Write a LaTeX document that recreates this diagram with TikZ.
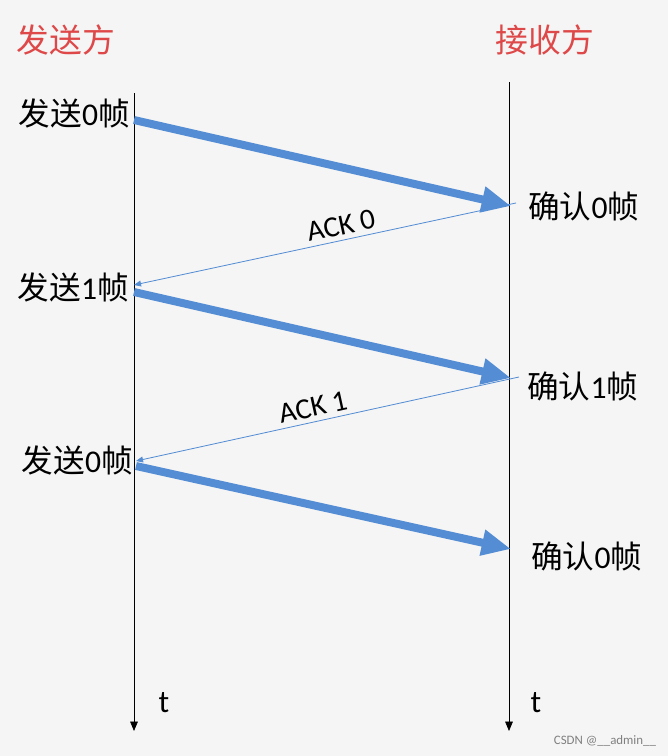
\documentclass[tikz,border=0pt]{standalone}
\usepackage{fontspec}
\setmainfont{Carlito}
\newfontfamily\cjk{Noto Sans CJK SC}
\usetikzlibrary{arrows.meta}

\definecolor{msgblue}{RGB}{84,141,212}
\definecolor{headred}{RGB}{222,72,72}
\definecolor{bggray}{RGB}{245,245,245}

\begin{document}
\begin{tikzpicture}[x=0.03cm,y=-0.03cm,
    timeline/.style={-{Triangle[length=8pt,width=6.5pt]}, line width=0.6pt},
    frame/.style={msgblue, line width=6.8pt, -{Triangle[length=25pt,width=21pt]}},
    ack/.style={msgblue, line width=0.7pt, -{Triangle[length=6pt,width=5pt]}},
    lbl/.style={font=\fontsize{27}{32}\selectfont, inner sep=0pt},
    head/.style={headred, font=\cjk\fontsize{28}{33}\selectfont, inner sep=0pt},
    acklbl/.style={black, font=\fontsize{25}{30}\selectfont, sloped, above, inner sep=4pt}]

        \fill[bggray] (0,0) rectangle (668,756);
        \useasboundingbox (0,0) rectangle (668,756);

        % headings
        \node[head] (sender) at (66,40) {发送方};
        \node[head] (receiver) at (545,40) {接收方};

        % time lines
        \coordinate (stop) at (134,93);
        \coordinate (sbot) at (134,731);
        \coordinate (rtop) at (509,82);
        \coordinate (rbot) at (509,731);
        \draw[timeline] (stop) -- (sbot);
        \draw[timeline] (rtop) -- (rbot);
        \node[lbl] (st) at (164,703) {t};
        \node[lbl] (rt) at (536,703) {t};

        % points on the time lines
        \coordinate (s1) at (134,120);
        \coordinate (r1) at (511,206);
        \coordinate (a1) at (516,203);
        \coordinate (s2) at (134,285);
        \coordinate (s2b) at (134,292);
        \coordinate (r2) at (511,378);
        \coordinate (a2) at (519,377);
        \coordinate (s3) at (136,461);
        \coordinate (s3b) at (136,466);
        \coordinate (r3) at (511,549);

        % labels
        \node[lbl, anchor=east] (send0) at (130,113) {{\cjk 发送}0{\cjk 帧}};
        \node[lbl, anchor=east] (send1) at (129,287) {{\cjk 发送}1{\cjk 帧}};
        \node[lbl, anchor=east] (send2) at (133,460) {{\cjk 发送}0{\cjk 帧}};
        \node[lbl, anchor=west] (conf0) at (528,206) {{\cjk 确认}0{\cjk 帧}};
        \node[lbl, anchor=west] (conf1) at (527,386) {{\cjk 确认}1{\cjk 帧}};
        \node[lbl, anchor=west] (conf2) at (531,556) {{\cjk 确认}0{\cjk 帧}};

        % frames and acks
        \draw[frame] (s1) -- (r1);
        \draw[ack] (a1) -- node[acklbl, pos=0.45] {ACK 0} (s2);
        \draw[frame] (s2b) -- (r2);
        \draw[ack] (a2) -- node[acklbl, pos=0.53] {ACK 1} (s3);
        \draw[frame] (s3b) -- (r3);

        \node[gray, font=\fontsize{11}{13}\selectfont] (mark) at (605,741) {CSDN @\_\_admin\_\_};
\end{tikzpicture}
\end{document}
